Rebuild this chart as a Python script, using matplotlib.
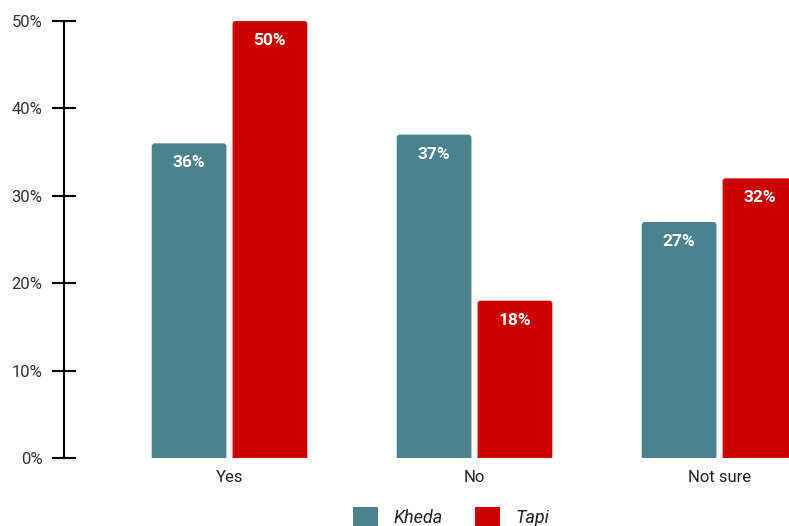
import matplotlib
matplotlib.use("Agg")
import matplotlib.pyplot as plt
import numpy as np
from matplotlib.patches import Patch, FancyBboxPatch

categories = ["Yes", "No", "Not sure"]
kheda = [36, 37, 27]
tapi = [50, 18, 32]
series_names = ["Kheda", "Tapi"]
yticks = [0, 10, 20, 30, 40, 50]
ytick_labels = ["0%", "10%", "20%", "30%", "40%", "50%"]

plt.rcParams['font.family'] = ['Roboto', 'DejaVu Sans']

W, H = 789, 526
fig = plt.figure(figsize=(W/100, H/100), dpi=100)
ax = fig.add_axes([64/W, 68/H, 1 - 64/W, (458-21)/H])

x = np.arange(len(categories))
bw = 0.305
off = 0.165
colors = ["#4A828E", "#CC0000"]
xpx = 245.0            # pixels per category unit
ypx = (458-21)/50.0    # pixels per percent
b1 = ax.bar(x - off, kheda, bw, color=colors[0])
b2 = ax.bar(x + off, tapi, bw, color=colors[1])

# replace plain rectangles with slightly rounded ones
r_px = 3.0
for bars in (b1, b2):
    for r in bars:
        r.set_visible(False)
        p = FancyBboxPatch((r.get_x(), -1), r.get_width(), r.get_height() + 1,
                           boxstyle=f"round,pad=0,rounding_size={r_px/xpx}",
                           mutation_aspect=xpx/ypx,
                           facecolor=r.get_facecolor(), edgecolor="none",
                           clip_on=True)
        ax.add_patch(p)

for bars, vals in ((b1, kheda), (b2, tapi)):
    for r, v in zip(bars, vals):
        ax.annotate(f"{v}%", (r.get_x() + r.get_width()/2, v),
                    xytext=(0, -14), textcoords="offset points",
                    ha="center", va="center", color="white",
                    fontsize=12.5, fontweight="bold", annotation_clip=False)

ax.set_xlim(-(229.5-64)/xpx, (789-229.5)/xpx)
ax.set_ylim(0, 50)
ax.set_yticks(yticks)
ax.set_yticklabels(ytick_labels)
ax.set_xticks(x)
ax.set_xticklabels(categories)

for s in ["top", "right", "bottom"]:
    ax.spines[s].set_visible(False)
ax.spines["left"].set_linewidth(1.5)
ax.spines["left"].set_color("black")

ax.tick_params(axis="y", direction="inout", length=17, width=1.5,
               pad=7, labelsize=12, labelcolor="#333333")
ax.tick_params(axis="x", length=0, pad=9, labelsize=12, labelcolor="#222222")

handles = [Patch(facecolor=c) for c in colors]
leg = fig.legend(handles, series_names, loc="center", ncol=2,
                 bbox_to_anchor=(451/W, 1 - 517/H), frameon=False,
                 handlelength=1.4, handleheight=1.4, handletextpad=0.85,
                 columnspacing=1.8,
                 prop={"style": "italic", "size": 13})
for t in leg.get_texts():
    t.set_color("#222222")

fig.savefig("out.png", dpi=100)
